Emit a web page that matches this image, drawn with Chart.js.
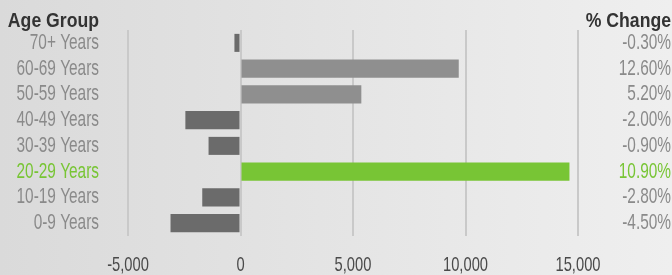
<!DOCTYPE html>
<html>
<head>
<meta charset="utf-8">
<script src="https://cdn.jsdelivr.net/npm/chart.js@4/dist/chart.umd.min.js"></script>
<style>
  html, body { margin: 0; padding: 0; }
  body {
    width: 672px; height: 275px; overflow: hidden;
    background: linear-gradient(to right, #dadada, #efefef);
  }
  #wrap { position: relative; width: 672px; height: 275px; }
</style>
</head>
<body>
<div id="wrap"><canvas id="chart"></canvas></div>
<script>
  // --- Data ---
  const ageGroups = ['70+ Years', '60-69 Years', '50-59 Years', '40-49 Years',
    '30-39 Years', '20-29 Years', '10-19 Years', '0-9 Years'];
  const changeValues = [-270, 9700, 5370, -2450, -1420, 14620, -1700, -3110];
  const pctChange = ['-0.30%', '12.60%', '5.20%', '-2.00%', '-0.90%', '10.90%', '-2.80%', '-4.50%'];
  const xTicks = [-5000, 0, 5000, 10000, 15000];
  const highlightGroup = '20-29 Years';

  // --- Styling ---
  const FONT = "'Liberation Sans', Arial, sans-serif";
  const GREEN = '#78c535';
  const LABEL_GRAY = '#8a8a8a';
  const hiIndex = ageGroups.indexOf(highlightGroup);

  const barColors = changeValues.map((v, i) => {
    if (i === hiIndex) return GREEN;
    return v < 0 ? '#6b6b6b' : '#8f8f8f';
  });

  function tickColor(ctx) {
    return ctx.index === hiIndex ? GREEN : LABEL_GRAY;
  }

  // No condensed face is installed, so squeeze text horizontally around its anchor
  const canvas = document.getElementById('chart');
  const ctx2d = canvas.getContext('2d');
  const origFillText = ctx2d.fillText.bind(ctx2d);
  ctx2d.fillText = function (text, x, y, maxWidth) {
    const s = /bold/.test(this.font) ? 0.84 : 0.7;
    this.save();
    this.translate(x, y);
    this.scale(s, 1);
    if (maxWidth === undefined) origFillText(text, 0, 0);
    else origFillText(text, 0, 0, maxWidth / s);
    this.restore();
  };

  function noPadding(scale) {
    scale.paddingTop = 0;
    scale.paddingBottom = 0;
  }

  // column headers drawn above the two label columns
  const headerPlugin = {
    id: 'headers',
    afterDraw(chart) {
      const ctx = chart.ctx;
      const y = chart.scales.y;
      const y2 = chart.scales.y2;
      ctx.save();
      ctx.font = "bold 21px " + FONT;
      ctx.fillStyle = '#333333';
      ctx.textAlign = 'right';
      ctx.textBaseline = 'alphabetic';
      ctx.fillText('Age Group', y.right - 29, 27);
      ctx.fillText('% Change', y2.right, 27);
      ctx.restore();
    },
  };

  new Chart(canvas, {
    type: 'bar',
    data: {
      labels: ageGroups,
      datasets: [{
        data: changeValues,
        backgroundColor: barColors,
        borderWidth: 0,
        categoryPercentage: 1,
        barPercentage: 0.7,
      }],
    },
    options: {
      indexAxis: 'y',
      responsive: true,
      maintainAspectRatio: false,
      animation: false,
      layout: { padding: { top: 30, right: 1, bottom: 0, left: 0 } },
      plugins: {
        legend: { display: false },
        tooltip: { enabled: false },
      },
      scales: {
        x: {
          type: 'linear',
          min: xTicks[0],
          max: xTicks[xTicks.length - 1],
          afterBuildTicks(scale) {
            scale.ticks = xTicks.map((v) => ({ value: v }));
          },
          afterFit(scale) { scale.height = 39; },
          grid: { color: '#c9c9c9', lineWidth: 2, drawTicks: false },
          border: { display: false },
          ticks: {
            padding: 17,
            color: '#4a4a4a',
            autoSkip: false,
            maxRotation: 0,
            font: { family: FONT, size: 21 },
            callback: (v) => v.toLocaleString('en-US'),
          },
        },
        y: {
          position: 'left',
          afterFit(scale) { scale.width = 128; noPadding(scale); },
          grid: { display: false, drawTicks: false },
          border: { display: false },
          ticks: {
            padding: 29,
            autoSkip: false,
            color: tickColor,
            font: { family: FONT, size: 22 },
          },
        },
        y2: {
          type: 'category',
          labels: pctChange,
          position: 'right',
          offset: true,
          afterFit(scale) { scale.width = 93; noPadding(scale); },
          grid: { display: false, drawTicks: false },
          border: { display: false },
          ticks: {
            crossAlign: 'far',
            autoSkip: false,
            color: tickColor,
            font: { family: FONT, size: 22 },
          },
        },
      },
    },
    plugins: [headerPlugin],
  });
</script>
</body>
</html>
